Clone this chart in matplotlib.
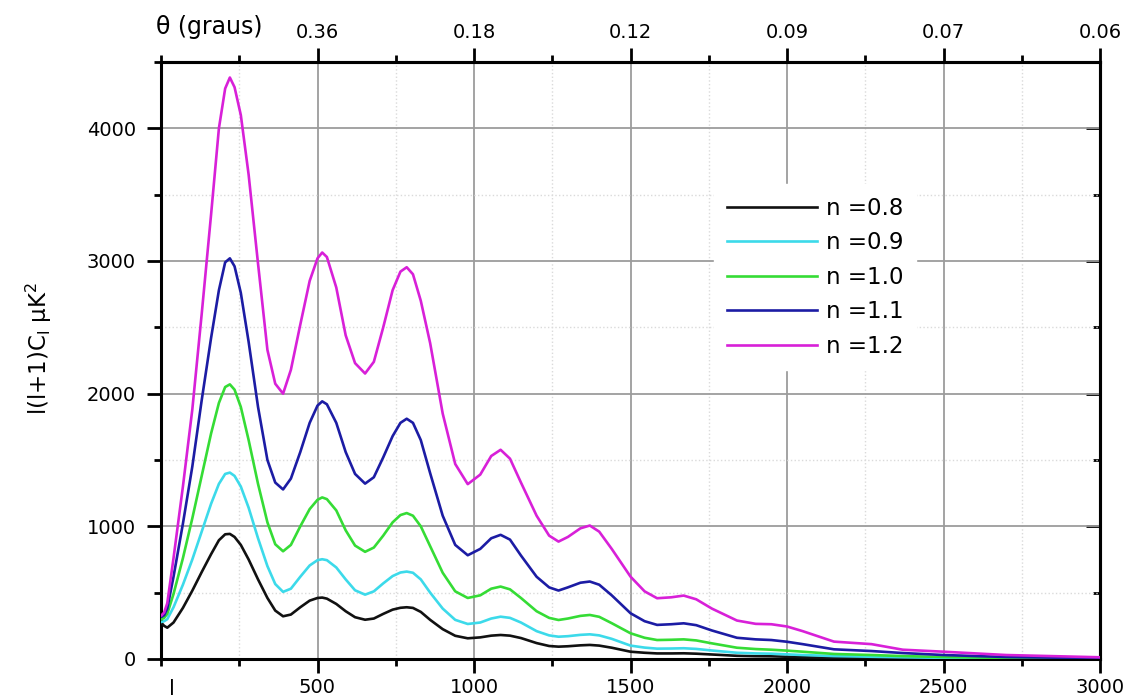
import matplotlib
matplotlib.use("Agg")
import matplotlib.pyplot as plt
from matplotlib.ticker import MultipleLocator

plt.rcParams['font.family'] = ['DejaVu Sans']
plt.rcParams['mathtext.fontset'] = 'dejavusans'

# multipole l
ell = [2, 10, 20, 40, 70, 100, 130, 160, 185, 205,
       220, 235, 255, 280, 310, 340, 365, 390, 415, 445,
       475, 500, 515, 530, 560, 590, 620, 652, 680, 710,
       740, 765, 785, 805, 830, 860, 900, 940, 980, 1020,
       1055, 1085, 1115, 1150, 1200, 1240, 1270, 1300, 1340, 1370,
       1400, 1440, 1500, 1545, 1585, 1630, 1670, 1710, 1760, 1840,
       1900, 1950, 2000, 2050, 2150, 2270, 2370, 2500, 2700, 3000]

n08 = [270, 250, 236, 275, 385, 515, 655, 790, 895, 940,
       943, 920, 860, 750, 600, 460, 365, 322, 335, 390,
       440, 460, 463, 455, 415, 360, 315, 296, 305, 340,
       372, 386, 390, 385, 355, 295, 225, 175, 156, 163,
       176, 181, 176, 158, 120, 98, 93, 96, 103, 106,
       101, 85, 55, 47, 42, 42, 43, 40, 34, 24,
       21, 20, 17, 13, 9, 6, 5, 3, 2, 1]

n09 = [280, 285, 300, 390, 560, 750, 960, 1170, 1320, 1395,
       1405, 1380, 1300, 1140, 910, 700, 565, 506, 530, 620,
       705, 745, 752, 745, 690, 600, 518, 485, 510, 570,
       625, 652, 659, 650, 600, 500, 380, 295, 264, 275,
       305, 319, 310, 275, 210, 178, 168, 172, 182, 186,
       178, 152, 101, 86, 78, 79, 81, 76, 64, 47,
       42, 40, 35, 30, 22, 17, 13, 9, 5, 2]

n10 = [300, 310, 340, 490, 760, 1060, 1380, 1700, 1930, 2050,
       2070, 2030, 1900, 1650, 1320, 1030, 865, 812, 860, 1000,
       1130, 1200, 1218, 1205, 1120, 970, 855, 808, 840, 930,
       1030, 1085, 1100, 1080, 1000, 850, 650, 510, 460, 480,
       530, 546, 525, 460, 360, 310, 294, 305, 325, 332,
       318, 270, 194, 160, 143, 145, 148, 140, 118, 85,
       75, 70, 63, 55, 38, 30, 22, 15, 8, 3]

n11 = [320, 330, 380, 620, 1020, 1450, 1950, 2420, 2780, 2990,
       3020, 2960, 2760, 2390, 1900, 1500, 1330, 1278, 1360, 1560,
       1780, 1910, 1942, 1920, 1780, 1560, 1395, 1322, 1370, 1520,
       1680, 1780, 1811, 1780, 1650, 1400, 1080, 860, 782, 830,
       910, 936, 900, 780, 620, 540, 516, 540, 575, 584,
       560, 480, 345, 285, 257, 262, 269, 255, 215, 160,
       148, 143, 130, 112, 73, 60, 45, 30, 15, 5]

n12 = [330, 350, 420, 760, 1300, 1880, 2600, 3350, 4000, 4300,
       4383, 4310, 4100, 3650, 2980, 2330, 2075, 2000, 2180, 2520,
       2850, 3020, 3064, 3030, 2800, 2440, 2230, 2152, 2240, 2500,
       2780, 2920, 2953, 2900, 2700, 2380, 1850, 1470, 1318, 1390,
       1530, 1577, 1510, 1330, 1080, 930, 885, 920, 985, 1006,
       960, 830, 621, 510, 458, 465, 478, 450, 380, 290,
       265, 262, 245, 210, 131, 112, 70, 55, 30, 13]

labels = ['n =0.8', 'n =0.9', 'n =1.0', 'n =1.1', 'n =1.2']
colors = ['#111111', '#3CDAEA', '#35DC35', '#1C1CA4', '#D820D8']

top_ticks = [500, 1000, 1500, 2000, 2500, 3000]
top_labels = ['0.36', '0.18', '0.12', '0.09', '0.07', '0.06']

W, H = 1130, 697
fig = plt.figure(figsize=(W / 100, H / 100), dpi=100)
ax = fig.add_axes([161 / W, (H - 659) / H, 939 / W, 597 / H])

for ys, c, lab in zip([n08, n09, n10, n11, n12], colors, labels):
    ax.plot(ell, ys, color=c, lw=1.9, label=lab, zorder=3)

ax.set_xlim(0, 3000)
ax.set_ylim(0, 4500)
ax.xaxis.set_major_locator(MultipleLocator(500))
ax.xaxis.set_minor_locator(MultipleLocator(250))
ax.yaxis.set_major_locator(MultipleLocator(1000))
ax.yaxis.set_minor_locator(MultipleLocator(500))

ax.grid(which='major', color='#9c9c9c', lw=1.3, ls='-', zorder=0)
ax.grid(which='minor', color='#dadada', lw=1.0, ls=':', zorder=0)
ax.set_axisbelow(True)

for s in ax.spines.values():
    s.set_linewidth(2.2)

ax.tick_params(which='major', direction='out', length=10, width=2, labelsize=14)
ax.tick_params(which='minor', direction='out', length=5, width=2)
ax.tick_params(axis='x', which='major', pad=3.5)
ax.tick_params(axis='y', which='major', pad=8)
ax.set_xticks([500, 1000, 1500, 2000, 2500, 3000])

# top axis
sec = ax.secondary_xaxis('top')
sec.set_xticks(top_ticks, top_labels)
sec.xaxis.set_minor_locator(MultipleLocator(250))
sec.tick_params(which='major', direction='out', length=10, width=2, labelsize=14, pad=4.5)
sec.tick_params(which='minor', direction='out', length=5, width=2)
sec.spines['top'].set_linewidth(2.2)

# right axis (ticks inward, no labels)
secr = ax.secondary_yaxis('right')
secr.yaxis.set_major_locator(MultipleLocator(1000))
secr.yaxis.set_minor_locator(MultipleLocator(500))
secr.tick_params(which='major', direction='in', length=10, width=2, labelright=False)
secr.tick_params(which='minor', direction='in', length=5, width=2)
secr.spines['right'].set_linewidth(2.2)

ax.set_ylabel('l(l+1)C$_{\\mathregular{l}}$ μK$^{\\mathregular{2}}$', fontsize=16.5)
ax.yaxis.set_label_coords(-0.114, 0.52)
ax.set_xlabel('l', fontsize=15)
ax.xaxis.set_label_coords(0.0117, -0.033)

ax.text(0.051, 1.058, 'θ (graus)', transform=ax.transAxes, fontsize=17,
        ha='center', va='center')

leg = ax.legend(loc='upper left', bbox_to_anchor=(0.589, 0.795), borderaxespad=0,
                fontsize=16.5, handlelength=3.93, handletextpad=0.39, labelspacing=0.5,
                borderpad=0.55, frameon=True, fancybox=False, framealpha=1,
                facecolor='white', edgecolor='white')
leg.set_zorder(5)

fig.savefig('out.png', dpi=100)
